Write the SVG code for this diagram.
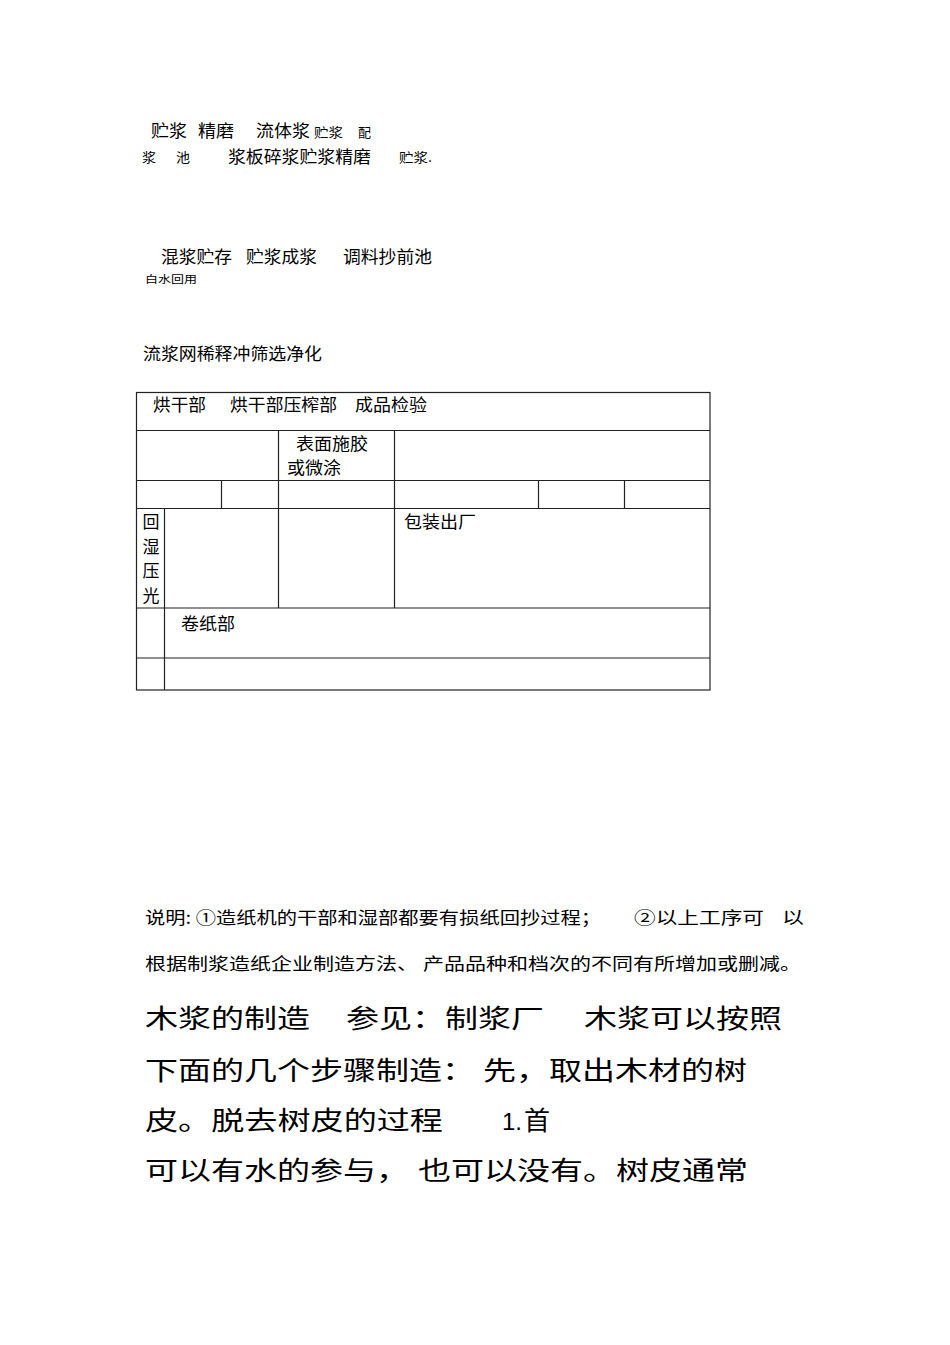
<svg xmlns="http://www.w3.org/2000/svg" width="950" height="1345" viewBox="0 0 950 1345">
<style>
text{font-family:"Noto Sans CJK SC","Noto Sans",sans-serif;fill:#000}
.m{font-size:17px}
.s{font-size:13px}
.xs{font-size:10px}
.n{font-size:17px}
.b{font-size:26px}
.lat{font-family:"Liberation Sans",sans-serif;font-size:24px}
.ln{stroke:#222;stroke-width:1.2;fill:none}
</style>
<rect width="950" height="1345" fill="#fff"/>
<g id="flow-text">
<text class="m" x="151" y="137" textLength="36" lengthAdjust="spacingAndGlyphs">贮浆</text>
<text class="m" x="198" y="137" textLength="36" lengthAdjust="spacingAndGlyphs">精磨</text>
<text class="m" x="256" y="137" textLength="54" lengthAdjust="spacingAndGlyphs">流体浆</text>
<text class="s" x="314" y="137" textLength="29" lengthAdjust="spacingAndGlyphs">贮浆</text>
<text class="s" x="358" y="137" textLength="13" lengthAdjust="spacingAndGlyphs">配</text>
<text class="s" x="142" y="162" textLength="14" lengthAdjust="spacingAndGlyphs">浆</text>
<text class="s" x="176" y="162" textLength="14" lengthAdjust="spacingAndGlyphs">池</text>
<text class="m" x="228" y="163" textLength="143" lengthAdjust="spacingAndGlyphs">浆板碎浆贮浆精磨</text>
<text class="s" x="399" y="162" textLength="33" lengthAdjust="spacingAndGlyphs">贮浆.</text>
<text class="m" x="161" y="263" textLength="71" lengthAdjust="spacingAndGlyphs">混浆贮存</text>
<text class="m" x="246" y="263" textLength="71" lengthAdjust="spacingAndGlyphs">贮浆成浆</text>
<text class="m" x="343" y="263" textLength="89" lengthAdjust="spacingAndGlyphs">调料抄前池</text>
<text class="xs" x="145" y="283" textLength="52" lengthAdjust="spacingAndGlyphs">白水回用</text>
<text class="m" x="143" y="360" textLength="179" lengthAdjust="spacingAndGlyphs">流浆网稀释冲筛选净化</text>
</g>
<g id="table">
<rect class="ln" x="136.5" y="392.5" width="573.5" height="297.5"/>
<line class="ln" x1="136.5" y1="430.5" x2="710" y2="430.5"/>
<line class="ln" x1="136.5" y1="480.5" x2="710" y2="480.5"/>
<line class="ln" x1="136.5" y1="508.5" x2="710" y2="508.5"/>
<line class="ln" x1="136.5" y1="608" x2="710" y2="608"/>
<line class="ln" x1="136.5" y1="658" x2="710" y2="658"/>
<line class="ln" x1="278.5" y1="430.5" x2="278.5" y2="608"/>
<line class="ln" x1="394.5" y1="430.5" x2="394.5" y2="608"/>
<line class="ln" x1="221.5" y1="480.5" x2="221.5" y2="508.5"/>
<line class="ln" x1="538.5" y1="480.5" x2="538.5" y2="508.5"/>
<line class="ln" x1="624.5" y1="480.5" x2="624.5" y2="508.5"/>
<line class="ln" x1="164.5" y1="508.5" x2="164.5" y2="690"/>
</g>
<g id="table-text">
<text class="n" x="153" y="411" textLength="53" lengthAdjust="spacingAndGlyphs">烘干部</text>
<text class="n" x="230" y="411" textLength="107" lengthAdjust="spacingAndGlyphs">烘干部压榨部</text>
<text class="n" x="355" y="411" textLength="72" lengthAdjust="spacingAndGlyphs">成品检验</text>
<text class="n" x="296" y="450" textLength="72" lengthAdjust="spacingAndGlyphs">表面施胶</text>
<text class="n" x="287" y="474" textLength="54" lengthAdjust="spacingAndGlyphs">或微涂</text>
<text class="n" x="142.5" y="528">回</text>
<text class="n" x="142.5" y="553">湿</text>
<text class="n" x="142.5" y="577">压</text>
<text class="n" x="142.5" y="602">光</text>
<text class="n" x="404" y="528" textLength="72" lengthAdjust="spacingAndGlyphs">包装出厂</text>
<text class="n" x="181" y="630" textLength="54" lengthAdjust="spacingAndGlyphs">卷纸部</text>
</g>
<g id="note">
<text class="n" x="145" y="924" textLength="456" lengthAdjust="spacingAndGlyphs">说明: ①造纸机的干部和湿部都要有损纸回抄过程；</text>
<text class="n" x="634" y="924" textLength="130" lengthAdjust="spacingAndGlyphs">②以上工序可</text>
<text class="n" x="782" y="924" textLength="22" lengthAdjust="spacingAndGlyphs">以</text>
<text class="n" x="145" y="970" textLength="273" lengthAdjust="spacingAndGlyphs">根据制浆造纸企业制造方法、</text>
<text class="n" x="423" y="970" textLength="378" lengthAdjust="spacingAndGlyphs">产品品种和档次的不同有所增加或删减。</text>
</g>
<g id="body">
<text class="b" x="145" y="1028" textLength="165" lengthAdjust="spacingAndGlyphs">木浆的制造</text>
<text class="b" x="346" y="1028" textLength="198" lengthAdjust="spacingAndGlyphs">参见：制浆厂</text>
<text class="b" x="584" y="1028" textLength="198" lengthAdjust="spacingAndGlyphs">木浆可以按照</text>
<text class="b" x="145" y="1080" textLength="330" lengthAdjust="spacingAndGlyphs">下面的几个步骤制造：</text>
<text class="b" x="483" y="1080" textLength="264" lengthAdjust="spacingAndGlyphs">先，取出木材的树</text>
<text class="b" x="145" y="1130" textLength="298" lengthAdjust="spacingAndGlyphs">皮。脱去树皮的过程</text>
<text class="b" x="502" y="1130"><tspan class="lat">1.</tspan><tspan x="524">首</tspan></text>
<text class="b" x="145" y="1180" textLength="264" lengthAdjust="spacingAndGlyphs">可以有水的参与，</text>
<text class="b" x="418" y="1180" textLength="330" lengthAdjust="spacingAndGlyphs">也可以没有。树皮通常</text>
</g>
</svg>
